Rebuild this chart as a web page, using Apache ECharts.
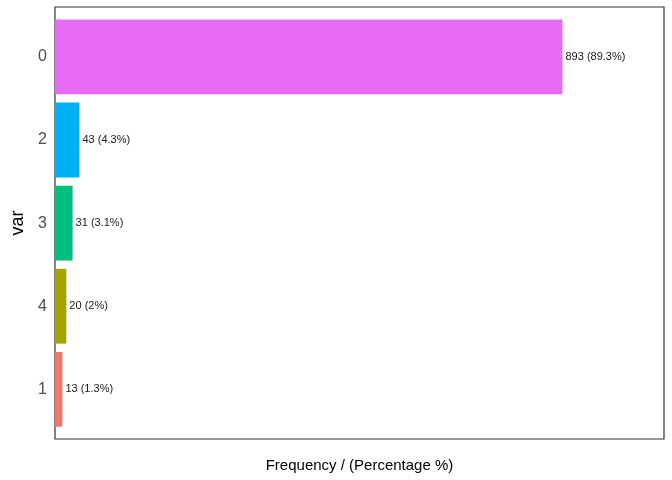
<!DOCTYPE html>
<html><head><meta charset="utf-8">
<script src="https://cdn.jsdelivr.net/npm/echarts@6/dist/echarts.min.js"></script>
<style>html,body{margin:0;padding:0;background:#fff}#c{width:672px;height:480px}</style>
</head><body><div id="c"></div>
<script>
const categories = ['0', '2', '3', '4', '1'];
const counts = [893, 43, 31, 20, 13];
const percents = ['89.3%', '4.3%', '3.1%', '2%', '1.3%'];
const colors = ['#E76BF3', '#00B0F6', '#00BF7D', '#A3A500', '#F8766D'];

const chart = echarts.init(document.getElementById('c'), null, {renderer: 'canvas'});
const font = 'Liberation Sans, Arial, sans-serif';
chart.setOption({
  animation: false,
  grid: [
    {left: 55, top: 7, width: 609, height: 432, show: true, borderColor: '#333333', borderWidth: 1.2, backgroundColor: 'transparent', outerBoundsMode: 'none', containLabel: false},
    {left: 55, top: 15.3, width: 609, height: 415.6, outerBoundsMode: 'none', containLabel: false}
  ],
  xAxis: [
    {gridIndex: 0, type: 'value', show: false, min: 0, max: 1},
    {gridIndex: 1, type: 'value', min: 0, max: 1071.6, axisLine: {show: false}, axisTick: {show: false}, axisLabel: {show: false}, splitLine: {show: false},
     name: 'Frequency / (Percentage %)', nameLocation: 'middle', nameGap: 27,
     nameTextStyle: {fontFamily: font, fontSize: 15, color: '#000'}}
  ],
  yAxis: [
    {gridIndex: 0, type: 'value', show: false, min: 0, max: 1},
    {gridIndex: 1, type: 'category', data: categories, inverse: true,
     axisLine: {show: false}, axisTick: {show: false}, splitLine: {show: false},
     axisLabel: {fontFamily: font, fontSize: 16, color: '#4D4D4D', margin: 8},
     name: 'var', nameLocation: 'middle', nameGap: 27, nameRotate: 90,
     nameTextStyle: {fontFamily: font, fontSize: 18, color: '#000'}}
  ],
  series: [{
    type: 'bar', xAxisIndex: 1, yAxisIndex: 1,
    barWidth: 74.8,
    data: counts.map((v, i) => ({value: v, itemStyle: {color: colors[i]}})),
    label: {
      show: true, position: 'right', distance: 3,
      fontFamily: font, fontSize: 11, color: '#1a1a1a',
      formatter: p => counts[p.dataIndex] + ' (' + percents[p.dataIndex] + ')'
    }
  }]
});
</script></body></html>
